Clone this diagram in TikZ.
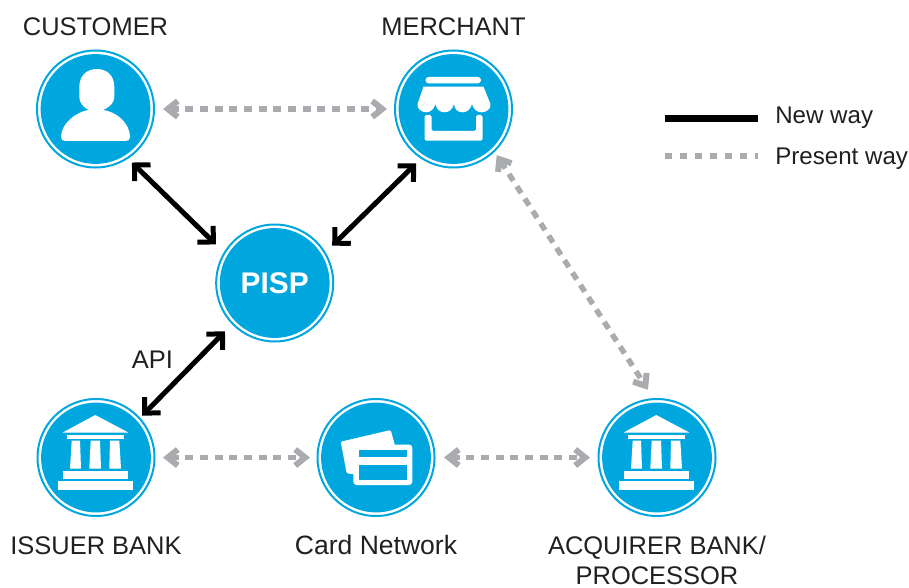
\documentclass[tikz,border=0pt]{standalone}
\usepackage{fontspec}
\setmainfont{Liberation Sans}
\usetikzlibrary{arrows.meta}
\definecolor{cblue}{HTML}{00A7DF}
\definecolor{cgray}{HTML}{A9ABAE}
\definecolor{ctext}{HTML}{231F20}
\tikzset{
  hub/.style={circle,draw=cblue,line width=1.5pt,fill=white,inner sep=0pt,outer sep=0pt,
    minimum size=87.75pt,font=\fontsize{22.4}{24}\selectfont\bfseries,text=white,
    path picture={\fill[cblue] (path picture bounding box.center) circle[radius=41.2pt];}},
  lbl/.style={anchor=base,inner sep=0pt,text=ctext,font=\fontsize{19.1}{22}\selectfont},
  leg/.style={anchor=base west,inner sep=0pt,text=ctext,font=\fontsize{18.1}{22}\selectfont},
  newway/.style={line width=3.75pt,black,{Straight Barb[length=8.5pt,width=17pt]}-{Straight Barb[length=8.5pt,width=17pt]}},
  oldway/.style={line width=4.1pt,cgray,dash pattern=on 6pt off 5pt,{Straight Barb[length=7.5pt,width=12pt,line width=4.5pt]}-{Straight Barb[length=7.5pt,width=12pt,line width=4.5pt]}},
  gap/.style 2 args={shorten <=#1*0.75pt,shorten >=#2*0.75pt},
  bankicon/.pic={
    \fill[white] (-0.7,-42.5) -- (32.3,-25) -- (-33.3,-25) -- cycle;
    \fill[white] (-29.3,-22.5) rectangle (28.3,-18.5);
    \fill[white] (-24.3,-17) -- (-16,-17) -- (-15,11) -- (-26,11) -- cycle;
    \fill[white] (-5.3,-17) -- (4,-17) -- (5,11) -- (-6.7,11) -- cycle;
    \fill[white] (14,-17) -- (23.3,-17) -- (25,11) -- (13.3,11) -- cycle;
    \fill[white] (-33,13.5) rectangle (32,21);
    \fill[white] (-38,23.5) rectangle (36.7,32.5);
  }
}
\begin{document}
\begin{tikzpicture}[x=0.75pt,y=-0.75pt]
\useasboundingbox (0,0) rectangle (909,588);
% hubs
\node[hub] (customer) at (95.5,109) {};
\node[hub] (merchant) at (453.5,109) {};
\node[hub] (pisp) at (274.7,283) {PISP};
\node[hub] (issuer) at (96,457.5) {};
\node[hub] (card) at (376,457.5) {};
\node[hub] (acquirer) at (657,457.5) {};
% person
\begin{scope}[shift={(customer)}]
\fill[white] (-16.2,-22) .. controls (-16.2,-34) and (-8,-40) .. (1.3,-40)
  .. controls (11,-40) and (18.8,-34) .. (18.8,-22) -- (18.8,-12)
  .. controls (18.8,-6) and (14,-2) .. (7.8,1)
  .. controls (22,3) and (34.5,15) .. (34.5,28)
  .. controls (34.5,31) and (33,32) .. (30,32) -- (-30,32)
  .. controls (-33,32) and (-34.5,31) .. (-34.5,28)
  .. controls (-34.5,15) and (-20,3) .. (-7,1)
  .. controls (-12,-2) and (-16.2,-6) .. (-16.2,-12) -- cycle;
\end{scope}
% store
\begin{scope}[shift={(merchant)}]
\fill[white,rounded corners=2.3pt] (-28,-32) rectangle (27.5,-25.7);
\fill[white] (-30,-22.3) -- (30,-22.3) -- (37,-5)
  .. controls (37.5,0) and (33,3.3) .. (28,3.3)
  .. controls (23,3.3) and (20,0) .. (18.5,-5)
  .. controls (17,0) and (14,3.3) .. (9,3.3)
  .. controls (4,3.3) and (1,0) .. (0.5,-5)
  .. controls (-1,0) and (-4,3.3) .. (-9,3.3)
  .. controls (-14,3.3) and (-17,0) .. (-18,-5)
  .. controls (-19.5,0) and (-23,3.3) .. (-27,3.3)
  .. controls (-32,3.3) and (-36.5,0) .. (-36,-5) -- cycle;
\fill[white,rounded corners=1.2pt] (-29,6) -- (-22,6) -- (-22,22) -- (22.5,22) -- (22.5,6) -- (29,6) -- (29,31.7) -- (-29,31.7) -- cycle;
\end{scope}
% banks
\path (issuer) pic {bankicon};
\path (acquirer) pic {bankicon};
% cards
\begin{scope}[shift={(card)}]
\fill[white,rounded corners=1pt] (-35.3,-15.8) -- (14.7,-27.5) -- (19,-12) -- (-20,-5) -- (-20,17) -- (-29.3,15.8) -- cycle;
\fill[white,rounded corners=2.5pt] (-22.7,-13) rectangle (36.3,27.5);
\fill[cblue] (-17,-8) rectangle (30.7,-0.8);
\fill[cblue] (-17,7.5) rectangle (30.7,22.5);
\end{scope}
% connectors
\draw[newway,gap={6.4}{12.1}] (customer.-57.9) -- (pisp.149.3);
\draw[newway,gap={7.7}{10.3}] (merchant.-123.8) -- (pisp.31.6);
\draw[newway,gap={10.9}{3.9}] (pisp.224.6) -- (issuer.42.9);
\draw[oldway,gap={9}{8}] (customer.east) -- (merchant.west);
\draw[oldway,gap={4.8}{11.1}] (merchant.-46.6) -- (acquirer.93.3);
\draw[oldway,gap={8.5}{7.5}] (issuer.east) -- (card.west);
\draw[oldway,gap={9.5}{8.5}] (card.east) -- (acquirer.west);
% labels
\node[lbl] (lcustomer) at (95.5,36) {CUSTOMER};
\node[lbl] (lmerchant) at (453.5,36) {MERCHANT};
\node[lbl] (lapi) at (152.5,368) {API};
\node[lbl] (lissuer) at (96,554) {ISSUER BANK};
\node[lbl,font=\fontsize{19.9}{22}\selectfont] (lcard) at (376,554) {Card Network};
\node[lbl] (lacq) at (657,554) {ACQUIRER BANK/};
\node[lbl] (lproc) at (657,584) {PROCESSOR};
% legend
\node[leg] (lnew) at (775,124) {New way};
\node[leg] (lold) at (775,165) {Present way};
\coordinate (na) at (665,118.3);
\coordinate (nb) at (758.3,118.3);
\coordinate (oa) at (665,156);
\coordinate (ob) at (758.3,156);
\draw[line width=5.2pt,black] (na) -- (nb);
\draw[line width=5.2pt,cgray,dash pattern=on 5.6pt off 5.6pt] (oa) -- (ob);
\end{tikzpicture}
\end{document}
